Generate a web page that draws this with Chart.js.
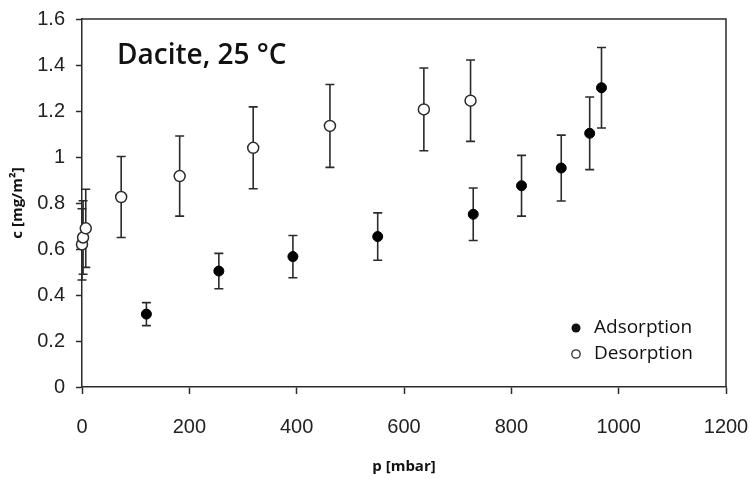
<!DOCTYPE html>
<html>
<head>
<meta charset="utf-8">
<script src="https://cdn.jsdelivr.net/npm/chart.js@4/dist/chart.umd.min.js"></script>
<style>
  html, body { margin: 0; padding: 0; background: #fff; }
  #wrap { width: 750px; height: 479px; }
</style>
</head>
<body>
<div id="wrap"><canvas id="isoChart" width="750" height="479"></canvas></div>
<script>
// Adsorption series (p in mbar, c in mg/m2, +/- error)
const adsP = [120, 255, 393, 551, 729, 819, 893, 946, 968];
const adsC = [0.317, 0.504, 0.567, 0.654, 0.751, 0.875, 0.952, 1.103, 1.301];
const adsErr = [0.05, 0.077, 0.092, 0.103, 0.114, 0.132, 0.143, 0.158, 0.175];

// Desorption series
const desP = [0, 2, 7, 73, 182, 319, 462, 637, 724];
const desC = [0.62, 0.65, 0.69, 0.826, 0.917, 1.04, 1.135, 1.207, 1.245];
const desErr = [0.155, 0.16, 0.17, 0.176, 0.174, 0.178, 0.18, 0.18, 0.177];

const xTicks = [0, 200, 400, 600, 800, 1000, 1200];
const yTicks = [0, 0.2, 0.4, 0.6, 0.8, 1, 1.2, 1.4, 1.6];

const ink = '#2b2b2b';

function toPoints(xs, ys, errs) {
    return xs.map((x, i) => ({ x: x, y: ys[i], err: errs[i] }));
}

// Error bars drawn under the markers
const errorBars = {
    id: 'errorBars',
    beforeDatasetsDraw(chart) {
        const ctx = chart.ctx;
        const xs = chart.scales.x, ys = chart.scales.y;
        ctx.save();
        ctx.strokeStyle = ink;
        ctx.lineWidth = 1.6;
        chart.data.datasets.forEach(ds => {
            ds.data.forEach(pt => {
                const px = xs.getPixelForValue(pt.x);
                const top = ys.getPixelForValue(pt.y + pt.err);
                const bot = ys.getPixelForValue(pt.y - pt.err);
                ctx.beginPath();
                ctx.moveTo(px, top); ctx.lineTo(px, bot);
                ctx.moveTo(px - 4.5, top); ctx.lineTo(px + 4.5, top);
                ctx.moveTo(px - 4.5, bot); ctx.lineTo(px + 4.5, bot);
                ctx.stroke();
            });
        });
        ctx.restore();
    }
};

// Frame, title and legend inside the plot
const decorations = {
    id: 'decorations',
    afterDraw(chart) {
        const ctx = chart.ctx;
        const a = chart.chartArea;
        ctx.save();
        ctx.strokeStyle = ink;
        ctx.lineWidth = 1.5;
        ctx.beginPath();
        ctx.moveTo(a.left, a.top); ctx.lineTo(a.right, a.top); ctx.lineTo(a.right, a.bottom);
        ctx.stroke();

        ctx.fillStyle = '#111';
        ctx.font = '600 28px "Open Sans"';
        ctx.textBaseline = 'middle';
        ctx.textAlign = 'left';
        ctx.fillText('Dacite, 25 \u00B0C', a.left + 35, a.top + 37);

        // legend
        ctx.font = '19px "Open Sans"';
        const lx = 576;
        ctx.beginPath();
        ctx.arc(lx, 328, 4.5, 0, Math.PI * 2);
        ctx.fillStyle = '#111';
        ctx.fill();
        ctx.beginPath();
        ctx.arc(lx, 354, 4.2, 0, Math.PI * 2);
        ctx.fillStyle = '#fff';
        ctx.fill();
        ctx.lineWidth = 1.3;
        ctx.stroke();
        ctx.fillStyle = '#111';
        ctx.fillText('Adsorption', 594, 328);
        ctx.fillText('Desorption', 594, 354);
        ctx.restore();
    }
};

new Chart(document.getElementById('isoChart'), {
    type: 'scatter',
    data: {
        datasets: [{
            label: 'Adsorption',
            data: toPoints(adsP, adsC, adsErr),
            pointRadius: 5,
            pointBackgroundColor: '#000',
            pointBorderColor: '#000',
            pointBorderWidth: 1,
            clip: false
        }, {
            label: 'Desorption',
            data: toPoints(desP, desC, desErr),
            pointRadius: 5.5,
            pointBackgroundColor: '#fff',
            pointBorderColor: ink,
            pointBorderWidth: 1.5,
            clip: false
        }]
    },
    options: {
        responsive: false,
        animation: false,
        layout: { padding: { top: 19, right: 24, left: 0, bottom: 0 } },
        plugins: {
            legend: { display: false },
            tooltip: { enabled: false }
        },
        scales: {
            x: {
                type: 'linear',
                min: 0, max: 1200,
                afterFit(scale) {
                    scale.height = 92;
                    scale.paddingLeft = 0;
                    scale.paddingRight = 0;
                },
                afterBuildTicks(scale) { scale.ticks = xTicks.map(v => ({ value: v })); },
                grid: { drawOnChartArea: false, drawTicks: true, tickLength: 7, tickColor: ink, tickWidth: 1.5 },
                border: { color: ink, width: 1.5 },
                ticks: {
                    color: '#222', font: { family: 'Liberation Sans', size: 20 }, padding: 21, maxRotation: 0,
                    callback: v => String(v)
                },
                title: { display: true, text: 'p [mbar]', color: '#111', font: { family: 'Open Sans', size: 15, weight: 'bold' }, padding: { top: 4, bottom: 3 } }
            },
            y: {
                type: 'linear',
                min: 0, max: 1.6,
                afterFit(scale) {
                    scale.width = 82;
                    scale.paddingTop = 0;
                    scale.paddingBottom = 0;
                },
                afterBuildTicks(scale) { scale.ticks = yTicks.map(v => ({ value: v })); },
                grid: { drawOnChartArea: false, drawTicks: true, tickLength: 6, tickColor: ink, tickWidth: 1.5 },
                border: { color: ink, width: 1.5 },
                ticks: {
                    color: '#222', font: { family: 'Liberation Sans', size: 20 }, padding: 11,
                    callback: v => String(+v.toFixed(1))
                },
                title: { display: true, text: 'c [mg/m\u00B2]', color: '#111', font: { family: 'Open Sans', size: 15, weight: 'bold' }, padding: { top: 9, bottom: 2 } }
            }
        }
    },
    plugins: [errorBars, decorations]
});
</script>
</body>
</html>
